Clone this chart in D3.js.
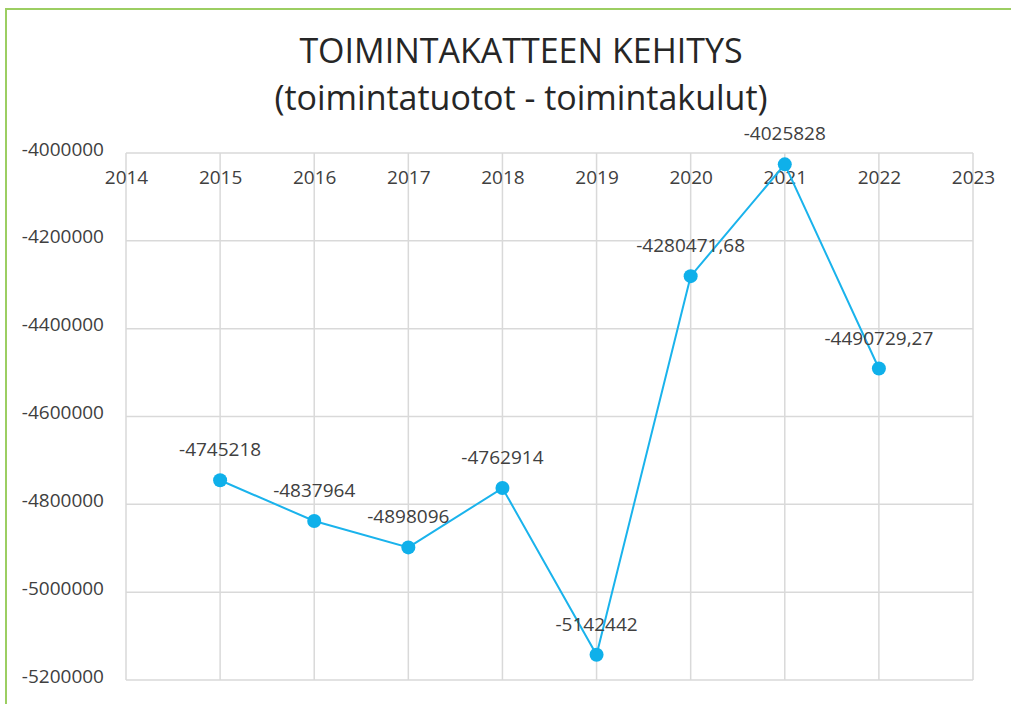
<!DOCTYPE html>
<html>
<head>
<meta charset="utf-8">
<script src="https://cdn.jsdelivr.net/npm/d3@7"></script>
<style>
  body { margin: 0; background: #fff; }
  text { font-family: "Open Sans", sans-serif; fill: #404040; }
</style>
</head>
<body>
<script>
var years = [2015, 2016, 2017, 2018, 2019, 2020, 2021, 2022];
var toimintakate = [-4745218, -4837964, -4898096, -4762914, -5142442, -4280471.68, -4025828, -4490729.27];
var xTicks = [2014, 2015, 2016, 2017, 2018, 2019, 2020, 2021, 2022, 2023];
var yTicks = [-4000000, -4200000, -4400000, -4600000, -4800000, -5000000, -5200000];
var titleLines = ["TOIMINTAKATTEEN KEHITYS", "(toimintatuotot - toimintakulut)"];

var width = 1011, height = 704;

var svg = d3.select("body").append("svg")
    .attr("width", width)
    .attr("height", height);

// chart area border (green, cut off at right/bottom)
svg.append("path")
    .attr("d", "M6," + height + "V9H" + width)
    .attr("fill", "none")
    .attr("stroke", "#9cce62")
    .attr("stroke-width", 2);

var x = d3.scaleLinear().domain([2014, 2023]).range([126, 973]);
var y = d3.scaleLinear().domain([-4000000, -5200000]).range([153, 680]);

// title
svg.append("g").selectAll("text")
  .data(titleLines)
  .enter().append("text")
    .attr("x", 521)
    .attr("y", function(d, i) { return 63 + i * 47; })
    .attr("text-anchor", "middle")
    .style("font-size", "34px")
    .style("fill", "#262626")
    .text(function(d) { return d; });

// grid
var grid = svg.append("g").attr("stroke", "#d9d9d9").attr("stroke-width", 1.5);
grid.selectAll("line.h")
  .data(yTicks)
  .enter().append("line")
    .attr("class", "h")
    .attr("x1", x(2014)).attr("x2", x(2023))
    .attr("y1", function(d) { return y(d); })
    .attr("y2", function(d) { return y(d); });
grid.selectAll("line.v")
  .data(xTicks)
  .enter().append("line")
    .attr("class", "v")
    .attr("x1", function(d) { return x(d); })
    .attr("x2", function(d) { return x(d); })
    .attr("y1", y(-4000000)).attr("y2", y(-5200000));

// y axis labels
var yAxis = d3.axisLeft(y).tickValues(yTicks).tickSize(0).tickPadding(22)
    .tickFormat(function(d) { return String(d); });
var yg = svg.append("g").attr("transform", "translate(" + x(2014) + ",-4)").call(yAxis);
yg.select(".domain").remove();
yg.selectAll("text").style("font-size", "19px").style("font-family", "Open Sans").attr("fill", "#404040");

// x axis labels, at the top (axis crosses at -4000000)
var xAxis = d3.axisBottom(x).tickValues(xTicks).tickSize(0).tickPadding(18)
    .tickFormat(d3.format("d"));
var xg = svg.append("g").attr("transform", "translate(0," + y(-4000000) + ")").call(xAxis);
xg.select(".domain").remove();
xg.selectAll("text").style("font-size", "19px").style("font-family", "Open Sans").attr("fill", "#404040");

// line
var line = d3.line()
    .x(function(d, i) { return x(years[i]); })
    .y(function(d) { return y(d); });

svg.append("path")
    .datum(toimintakate)
    .attr("d", line)
    .attr("fill", "none")
    .attr("stroke", "#1ab3ec")
    .attr("stroke-width", 2);

svg.append("g").selectAll("circle")
  .data(toimintakate)
  .enter().append("circle")
    .attr("cx", function(d, i) { return x(years[i]); })
    .attr("cy", function(d) { return y(d); })
    .attr("r", 7)
    .attr("fill", "#0fb0ea");

// data labels
svg.append("g").selectAll("text")
  .data(toimintakate)
  .enter().append("text")
    .attr("x", function(d, i) { return x(years[i]); })
    .attr("y", function(d) { return y(d) - 24; })
    .attr("text-anchor", "middle")
    .style("font-size", "19px")
    .text(function(d) { return String(d).replace(".", ","); });
</script>
</body>
</html>
